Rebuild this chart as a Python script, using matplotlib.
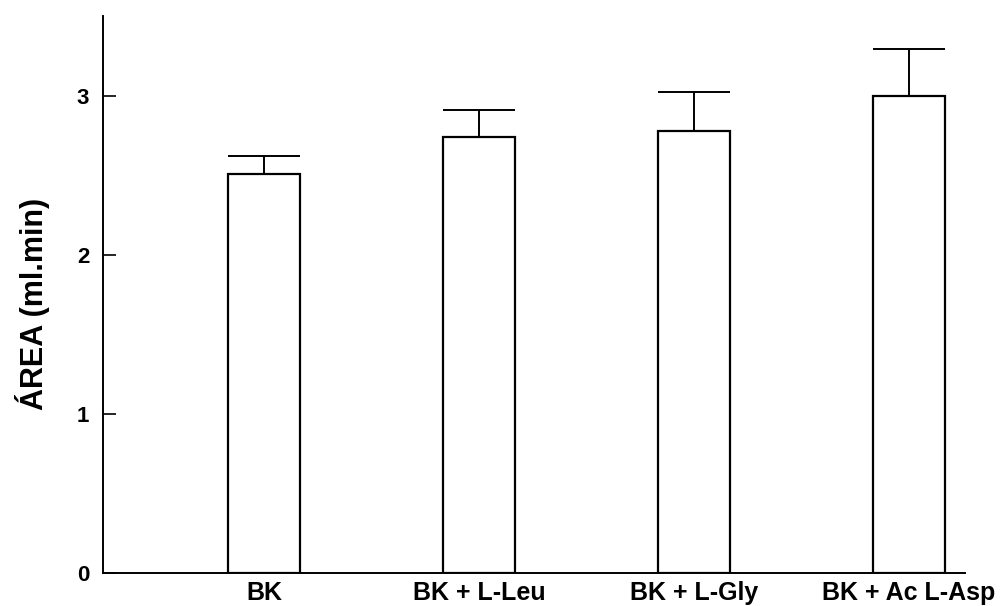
import numpy as np
import matplotlib
matplotlib.use("Agg")
from matplotlib import pyplot as plt

# values
groups = ["BK", "BK + L-Leu", "BK + L-Gly", "BK + Ac L-Asp"]
area = [2.51, 2.74, 2.78, 3.00]
err_up = [0.11, 0.17, 0.24, 0.29]
yticks = [0, 1, 2, 3]

plt.rcParams["font.family"] = ["Liberation Sans", "DejaVu Sans"]
plt.rcParams["font.weight"] = "bold"

fig = plt.figure(figsize=(10.06, 6.06), dpi=100)
ax = fig.add_axes([0.1024, 0.0545, 0.8566, 0.9191])

x = np.arange(len(groups))
ax.bar(x, area, width=0.335, color="white", edgecolor="black", linewidth=1.6)
ax.errorbar(x, area, yerr=[np.zeros(len(err_up)), err_up], fmt="none",
            ecolor="black", elinewidth=1.4, capsize=26, capthick=1.4)

ax.set_xlim(-0.75, 3.26)
ax.set_ylim(0, 3.5)
ax.set_yticks(yticks)
ax.set_xticks(x)
ax.set_xticklabels(groups, fontsize=18, fontweight="bold")
ax.tick_params(axis="x", length=0, pad=6)
ax.tick_params(axis="y", direction="in", length=9, width=1.2, labelsize=16, pad=10)
for lab in ax.get_yticklabels():
    lab.set_fontweight("bold")

ax.spines["top"].set_visible(False)
ax.spines["right"].set_visible(False)
ax.spines["left"].set_linewidth(1.4)
ax.spines["bottom"].set_linewidth(1.4)

ax.set_ylabel("ÁREA (ml.min)", fontsize=22, fontweight="bold")
ax.yaxis.set_label_coords(-0.061, 0.483)

fig.savefig("out.png", dpi=100)
